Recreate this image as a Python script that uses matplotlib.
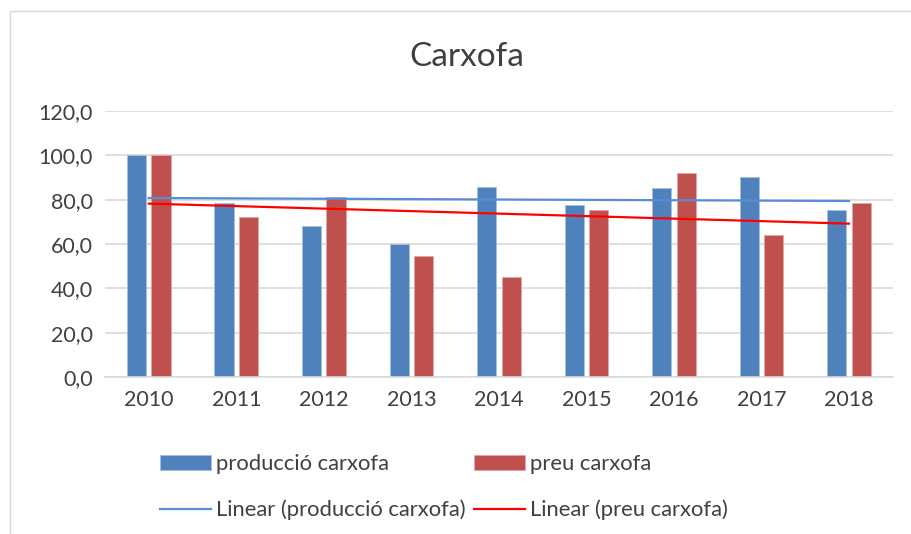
import numpy as np
import matplotlib.pyplot as plt
from matplotlib.patches import Rectangle

anys = [2010, 2011, 2012, 2013, 2014, 2015, 2016, 2017, 2018]
produccio = [100.0, 78.3, 68.1, 60.1, 85.7, 77.6, 85.4, 90.2, 75.5]
preu = [100.0, 72.3, 81.0, 54.8, 45.3, 75.5, 91.9, 64.2, 78.5]
yticks = [0, 20, 40, 60, 80, 100, 120]

blau = "#4F81BD"
vermell = "#C0504D"

plt.rcParams["font.family"] = ["Lato", "DejaVu Sans"]

fig = plt.figure(figsize=(9.11, 5.34), dpi=100)
ax = fig.add_axes([0.1153, 0.294, 0.8647, 0.498])

x = np.arange(len(anys))
w = 0.22
b1 = ax.bar(x - 0.14, produccio, w, color=blau, edgecolor="#A7BFDE", linewidth=0.6,
            label="producció carxofa", zorder=2)
b2 = ax.bar(x + 0.14, preu, w, color=vermell, edgecolor="#E0A8A6", linewidth=0.6,
            label="preu carxofa", zorder=2)

# linies de tendencia
p1 = np.polyfit(x, produccio, 1)
p2 = np.polyfit(x, preu, 1)
l1, = ax.plot(x, np.polyval(p1, x), color="#558ED5", lw=1.6,
              label="Linear (producció carxofa)", zorder=3)
l2, = ax.plot(x, np.polyval(p2, x), color="#FF0000", lw=1.6,
              label="Linear (preu carxofa)", zorder=3)

ax.set_xlim(-0.5, len(anys) - 0.5)
ax.set_ylim(0, 120)
ax.set_yticks(yticks)
ax.set_yticklabels([f"{v:.1f}".replace(".", ",") for v in yticks])
ax.set_xticks(x)
ax.set_xticklabels([str(a) for a in anys])
ax.tick_params(length=0, labelsize=15.5, colors="#404040", pad=9)
ax.grid(axis="y", color="#D9D9D9", lw=1.2, zorder=0)
for s in ["top", "right", "left"]:
    ax.spines[s].set_visible(False)
ax.spines["bottom"].set_color("#D9D9D9")
ax.spines["bottom"].set_linewidth(1.2)

fig.text(0.512, 0.893, "Carxofa", ha="center", va="center", fontsize=24, color="#404040")

fig.legend([b1, l1, b2, l2],
           ["producció carxofa", "Linear (producció carxofa)", "preu carxofa", "Linear (preu carxofa)"],
           ncol=2, loc="upper left", bbox_to_anchor=(0.154, 0.186), frameon=False,
           fontsize=15.8, handlelength=2.3, handletextpad=0.25, columnspacing=0.4,
           labelspacing=1.15, labelcolor="#404040")

fig.patches.append(Rectangle((0.011, -0.01), 1.1, 0.99, transform=fig.transFigure,
                             fill=False, edgecolor="#D9D9D9", lw=1))

fig.savefig("out.png", dpi=100)
